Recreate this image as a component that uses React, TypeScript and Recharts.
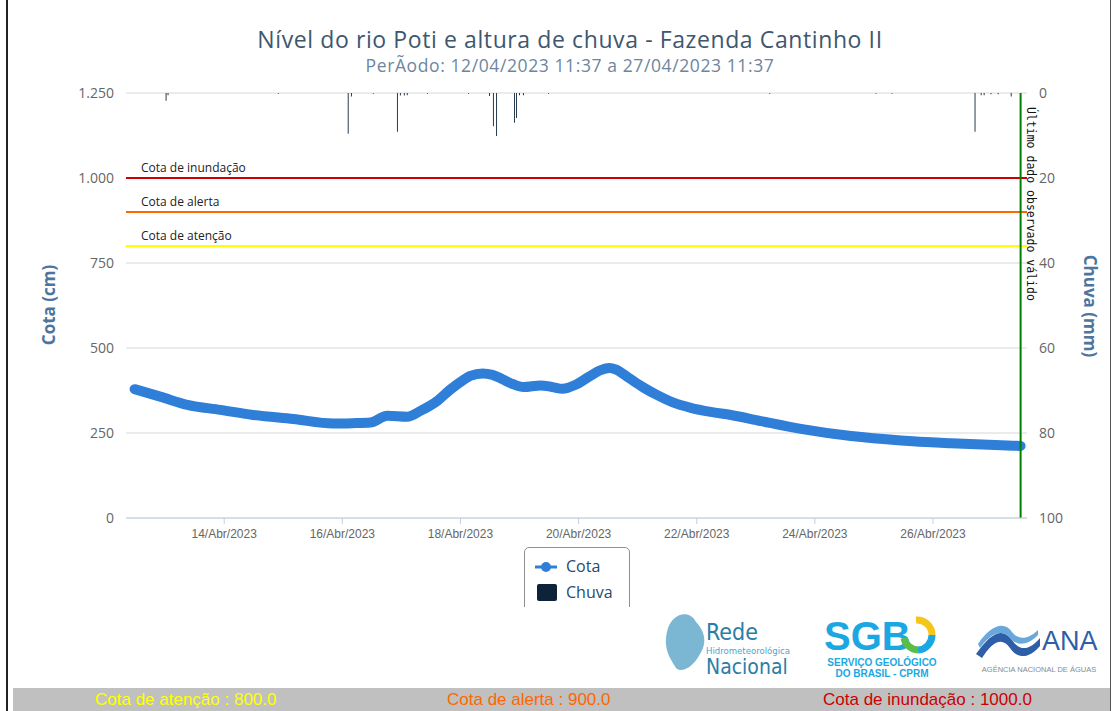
import React from 'react';
import { ComposedChart, Line, Bar, XAxis, YAxis, CartesianGrid, ReferenceLine } from 'recharts';

// horas contadas a partir de 12/04/2023 00:00
const cotaHoras = [
  11.6, 22, 33, 46.4, 59.8, 76.1, 92.3, 100.1, 107.4, 114.3, 122.4, 127.7, 134.7, 139.9,
  145.2, 148, 153, 157, 161.1, 165.2, 169.6, 176.6, 181.4, 185.5, 190.8, 196.1, 201,
  204.5, 207.1, 212.4, 218.1, 223.8, 230.3, 237.6, 245.7, 253.9, 266.1, 282.3, 302.7,
  323.0, 343.4, 363.7, 371.6,
];
const cotaValores = [
  379, 357, 333, 318, 303, 291, 278, 279, 281, 301, 298, 315, 345, 378,
  406, 418, 425, 421, 408, 394, 385, 390, 385, 380, 392, 415, 435,
  441, 437, 412, 385, 362, 340, 324, 312, 303, 285, 262, 241,
  228, 220, 214, 212,
];

const chuvaHoras = [
  24.4, 25.2, 70.0, 98.4, 99.7, 108.6, 118.4, 119.6, 121.2, 122.4, 130.6, 147.3, 155.8,
  157.4, 158.7, 166.0, 166.8, 168.0, 169.6, 179.8, 269.7, 312.9, 319.4, 353.1, 355.6,
  356.8, 359.6, 362.5, 367.8,
];
const chuvaValores = [
  1.8, 0.5, 0.2, 9.6, 0.8, 0.2, 9.1, 0.6, 0.6, 0.5, 0.2, 0.2, 0.7,
  7.8, 10.1, 7.0, 5.9, 0.5, 0.5, 0.2, 0.2, 0.2, 0.2, 9.1, 0.5,
  0.5, 0.3, 0.3, 0.8,
];

const ticksX = [48, 96, 144, 192, 240, 288, 336];
const ticksCota = [0, 250, 500, 750, 1000, 1250];
const ticksChuva = [0, 20, 40, 60, 80, 100];

const cotasReferencia = [
  { nome: 'Cota de inundação', valor: 1000, cor: '#cc0000' },
  { nome: 'Cota de alerta', valor: 900, cor: '#ff6600' },
  { nome: 'Cota de atenção', valor: 800, cor: '#ffff00' },
];
const ultimoDado = 371.6;

const rows = [
  ...cotaHoras.map((h, i) => ({ h, cota: cotaValores[i] })),
  ...chuvaHoras.map((h, i) => ({ h, chuva: chuvaValores[i] })),
].sort((a, b) => a.h - b.h);

const formatDia = (h: number) => `${12 + Math.floor(h / 24)}/Abr/2023`;
const formatCota = (v: number) => v.toLocaleString('pt-BR');

const tickStyle = { fontFamily: '"Open Sans", sans-serif', fontSize: 14, fill: '#666' };

const App: React.FC = () => {
  return (
    <div style={{ position: 'absolute', left: 0, top: 0, width: 1116, height: 711, background: '#fff', overflow: 'hidden' }}>
      <ComposedChart
        width={1116}
        height={711}
        data={rows}
        margin={{ top: 93, right: 0, bottom: 163, left: 0 }}
      >
        <CartesianGrid yAxisId="cota" vertical={false} stroke="#d8d8d8" />
        <XAxis
          dataKey="h"
          type="number"
          domain={[8.1, 374.2]}
          ticks={ticksX}
          tickFormatter={formatDia}
          height={30}
          stroke="#c0d0e0"
          tickSize={6}
          tickMargin={5}
          tick={{ fontFamily: '"Liberation Sans", Arial, sans-serif', fontSize: 12, fill: '#666' }}
          allowDataOverflow
        />
        <YAxis
          yAxisId="cota"
          orientation="left"
          width={126}
          domain={[0, 1250]}
          ticks={ticksCota}
          tickFormatter={formatCota}
          axisLine={false}
          tickLine={false}
          tickSize={0}
          tickMargin={12}
          tick={tickStyle}
        />
        <YAxis
          yAxisId="chuva"
          orientation="right"
          width={89}
          domain={[0, 100]}
          reversed
          ticks={ticksChuva}
          axisLine={false}
          tickLine={false}
          tickSize={0}
          tickMargin={12}
          tick={tickStyle}
        />
        {cotasReferencia.map((c) => (
          <ReferenceLine
            key={c.nome}
            yAxisId="cota"
            y={c.valor}
            stroke={c.cor}
            strokeWidth={2}
            label={(p: any) => (
              <text
                x={p.viewBox.x + 15}
                y={p.viewBox.y - 6}
                fontFamily='"Open Sans", sans-serif'
                fontSize={12}
                fill="#222"
              >
                {c.nome}
              </text>
            )}
          />
        ))}
        <Bar yAxisId="chuva" dataKey="chuva" fill="#0d233a" barSize={2} isAnimationActive={false} />
        <Line
          yAxisId="cota"
          dataKey="cota"
          type="monotone"
          stroke="#2f7ed8"
          strokeWidth={10}
          strokeLinecap="round"
          strokeLinejoin="round"
          dot={false}
          connectNulls
          isAnimationActive={false}
        />
        <ReferenceLine
          yAxisId="cota"
          x={ultimoDado}
          stroke="#008000"
          strokeWidth={2}
          label={(p: any) => {
            const x = p.viewBox.x + 6;
            const y = p.viewBox.y + 14;
            return (
              <text
                x={x}
                y={y}
                transform={`rotate(90 ${x} ${y})`}
                fontFamily='"DejaVu Sans Mono", monospace'
                fontSize={11.5}
                fill="#111"
              >
                Último dado observado válido
              </text>
            );
          }}
        />
      </ComposedChart>

      <svg width={1116} height={711} style={{ position: 'absolute', left: 0, top: 0, pointerEvents: 'none' }}>
        <text x={570} y={48} textAnchor="middle" fontFamily='"Open Sans", sans-serif' fontSize={23} letterSpacing={0.6} fill="#3e576f">
          Nível do rio Poti e altura de chuva - Fazenda Cantinho II
        </text>
        <text x={570} y={72} textAnchor="middle" fontFamily='"Open Sans", sans-serif' fontSize={17.5} letterSpacing={0.6} fill="#6d869f">
          PerÃodo: 12/04/2023 11:37 a 27/04/2023 11:37
        </text>
        <text x={55} y={305} transform="rotate(-90 55 305)" textAnchor="middle" fontFamily='"Open Sans", sans-serif' fontSize={17} fontWeight="bold" fill="#4d759e">
          Cota (cm)
        </text>
        <text x={1084} y={306} transform="rotate(90 1084 306)" textAnchor="middle" fontFamily='"Open Sans", sans-serif' fontSize={17} fontWeight="bold" fill="#4d759e">
          Chuva (mm)
        </text>
      </svg>

      {/* legenda */}
      <div style={{ position: 'absolute', left: 524, top: 547, width: 106, height: 60, overflow: 'hidden' }}>
        <div style={{ width: 104, height: 80, border: '1px solid #909090', borderRadius: 5, background: '#fff', position: 'relative', fontFamily: '"Open Sans", sans-serif', fontSize: 16, color: '#274b6d' }}>
          <svg width={24} height={12} style={{ position: 'absolute', left: 10, top: 13 }}>
            <line x1={0} y1={6} x2={22} y2={6} stroke="#2f7ed8" strokeWidth={3} />
            <circle cx={11} cy={6} r={5} fill="#2f7ed8" />
          </svg>
          <span style={{ position: 'absolute', left: 41, top: 7 }}>Cota</span>
          <div style={{ position: 'absolute', left: 12, top: 36, width: 20, height: 17, borderRadius: 2, background: '#0d233a' }} />
          <span style={{ position: 'absolute', left: 41, top: 33 }}>Chuva</span>
        </div>
      </div>

      {/* logos */}
      <svg width={450} height={75} style={{ position: 'absolute', left: 660, top: 608 }}>
        <path d="M8 20 C14 4 30 2 36 14 C44 22 48 34 40 46 C34 58 22 66 16 60 C10 50 2 40 8 20 Z" fill="#4f9fc4" opacity={0.75} />
        <text x={46} y={32} fontFamily='"DejaVu Sans Condensed", sans-serif' fontSize={23} fill="#2a7ea6">Rede</text>
        <text x={46} y={46} fontFamily='"DejaVu Sans Condensed", sans-serif' fontSize={9.5} fill="#4aa7cf">Hidrometeorológica</text>
        <text x={46} y={66} fontFamily='"DejaVu Sans Condensed", sans-serif' fontSize={21} fill="#2a7ea6">Nacional</text>

        <text x={164} y={42} fontFamily='"Liberation Sans", Arial, sans-serif' fontSize={40} fontWeight="bold" fill="#1ba8e2">SGB</text>
        <path d="M256 12 A15 15 0 0 1 272 27" stroke="#f5c518" strokeWidth={7} fill="none" />
        <path d="M272 27 A15 15 0 0 1 258 42" stroke="#1ba8e2" strokeWidth={7} fill="none" />
        <path d="M258 42 A15 15 0 0 1 244 30" stroke="#5bbd45" strokeWidth={7} fill="none" />
        <text x={222} y={58} textAnchor="middle" fontFamily='"Liberation Sans", Arial, sans-serif' fontSize={10} fontWeight="bold" fill="#1ba8e2">SERVIÇO GEOLÓGICO</text>
        <text x={222} y={69} textAnchor="middle" fontFamily='"Liberation Sans", Arial, sans-serif' fontSize={10} fontWeight="bold" fill="#1ba8e2">DO BRASIL - CPRM</text>

        <path d="M316 46 C330 26 342 18 352 32 C360 44 370 42 380 30 L380 38 C370 50 358 52 350 40 C342 28 332 34 322 50 Z" fill="#2f5ea8" />
        <path d="M318 36 C330 18 344 12 352 24 C358 32 368 32 378 22 L378 27 C368 38 356 38 350 30 C342 20 330 26 320 40 Z" fill="#6aa7dc" />
        <text x={382} y={42} fontFamily='"Liberation Sans", Arial, sans-serif' fontSize={27} fill="#2f5ea8">ANA</text>
        <text x={379} y={64} textAnchor="middle" fontFamily='"Liberation Sans", Arial, sans-serif' fontSize={7.5} fill="#8a8a8a">AGÊNCIA NACIONAL DE ÁGUAS</text>
      </svg>

      {/* faixa de cotas */}
      <div style={{ position: 'absolute', left: 13, top: 688, width: 1097, height: 23, background: '#c0c0c0', fontFamily: '"Liberation Sans", Arial, sans-serif', fontSize: 17 }}>
        <span style={{ position: 'absolute', left: 82, top: 2, color: '#ffff00' }}>Cota de atenção : 800.0</span>
        <span style={{ position: 'absolute', left: 434, top: 2, color: '#ff6600' }}>Cota de alerta : 900.0</span>
        <span style={{ position: 'absolute', left: 810, top: 2, color: '#cc0000' }}>Cota de inundação : 1000.0</span>
      </div>

      <div style={{ position: 'absolute', left: 6, top: 0, width: 2, height: 711, background: '#222' }} />
      <div style={{ position: 'absolute', left: 1110, top: 0, width: 1, height: 711, background: '#555' }} />
    </div>
  );
};

export default App;
